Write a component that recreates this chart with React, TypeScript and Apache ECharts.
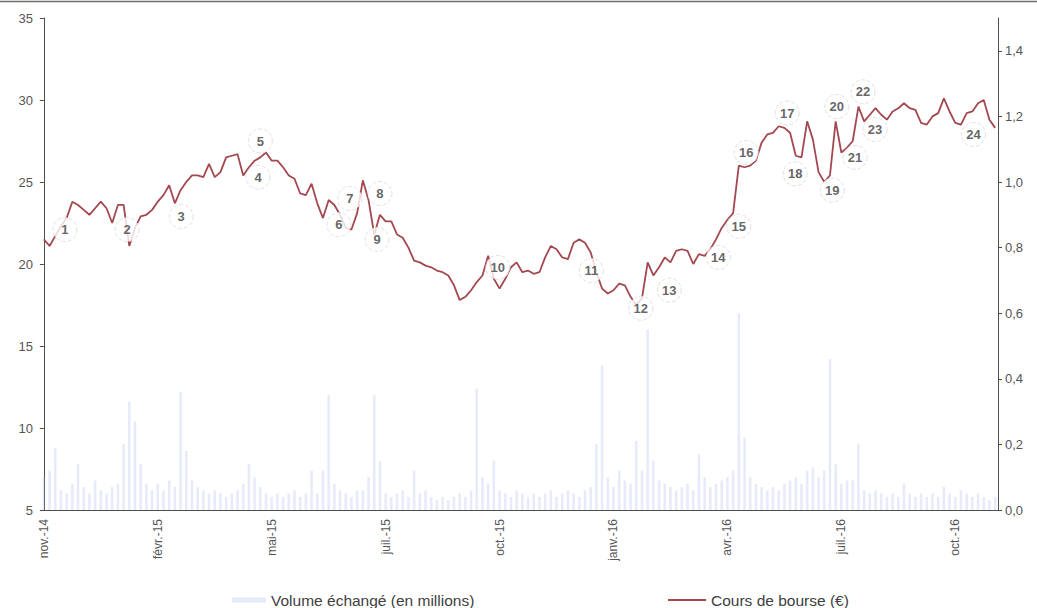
import React, { useEffect, useRef } from "react";
import * as echarts from "echarts";

// x-axis tick labels (one every LABEL_STEP categories; each category = 3 trading days)
const tickLabels = ["nov.-14", "févr.-15", "mai-15", "juil.-15", "oct.-15", "janv.-16", "avr.-16", "juil.-16", "oct.-16"];
const LABEL_STEP = 20;
const TICK_STEP = 35;

// Cours de bourse (€)
const price = [
  21.5, 21.1, 21.7, 22.3, 22.8, 23.8, 23.6, 23.3, 23.0, 23.4,
  23.8, 23.4, 22.5, 23.6, 23.6, 21.1, 22.2, 22.9, 23.0, 23.3,
  23.8, 24.2, 24.8, 23.7, 24.5, 25.0, 25.4, 25.4, 25.3, 26.1,
  25.3, 25.6, 26.5, 26.6, 26.7, 25.4, 25.9, 26.3, 26.5, 26.8,
  26.3, 26.3, 25.9, 25.4, 25.2, 24.3, 24.2, 24.9, 23.7, 22.8,
  23.9, 23.6, 23.0, 22.2, 22.1, 23.1, 25.1, 23.9, 21.8, 23.0,
  22.6, 22.6, 21.8, 21.6, 21.0, 20.2, 20.1, 19.9, 19.8, 19.6,
  19.5, 19.3, 18.7, 17.8, 18.0, 18.4, 18.9, 19.3, 20.5, 19.1,
  18.5, 19.1, 19.8, 20.1, 19.5, 19.6, 19.4, 19.5, 20.4, 21.1,
  20.9, 20.4, 20.3, 21.3, 21.5, 21.3, 20.7, 19.5, 18.5, 18.2,
  18.4, 18.8, 18.7, 18.0, 17.5, 17.9, 20.1, 19.3, 19.8, 20.4,
  20.1, 20.8, 20.9, 20.8, 20.0, 20.6, 20.5, 20.9, 21.5, 22.2,
  22.7, 23.1, 26.0, 25.9, 26.0, 26.3, 27.4, 27.9, 28.0, 28.4,
  28.3, 28.0, 26.6, 26.5, 28.7, 27.6, 25.6, 25.0, 25.4, 28.7,
  26.8, 27.1, 27.5, 29.6, 28.7, 29.1, 29.5, 29.1, 28.8, 29.3,
  29.5, 29.8, 29.5, 29.4, 28.6, 28.5, 29.0, 29.2, 30.1, 29.3,
  28.6, 28.5, 29.2, 29.3, 29.8, 30.0, 28.8, 28.3,
];

// Volume échangé (en millions)
const volume = [
  0.10, 0.12, 0.19, 0.06, 0.05, 0.08, 0.14, 0.07, 0.05, 0.09,
  0.06, 0.05, 0.07, 0.08, 0.20, 0.33, 0.27, 0.14, 0.08, 0.06,
  0.08, 0.06, 0.09, 0.07, 0.36, 0.18, 0.09, 0.07, 0.06, 0.05,
  0.06, 0.05, 0.04, 0.05, 0.06, 0.08, 0.14, 0.10, 0.07, 0.05,
  0.04, 0.05, 0.04, 0.05, 0.06, 0.04, 0.05, 0.12, 0.05, 0.12,
  0.35, 0.08, 0.06, 0.05, 0.04, 0.06, 0.06, 0.10, 0.35, 0.15,
  0.05, 0.04, 0.05, 0.06, 0.04, 0.12, 0.05, 0.06, 0.04, 0.03,
  0.04, 0.03, 0.04, 0.05, 0.04, 0.06, 0.37, 0.10, 0.08, 0.15,
  0.06, 0.05, 0.04, 0.06, 0.05, 0.04, 0.05, 0.04, 0.05, 0.06,
  0.04, 0.05, 0.06, 0.05, 0.04, 0.06, 0.07, 0.20, 0.44, 0.10,
  0.07, 0.12, 0.09, 0.08, 0.21, 0.12, 0.55, 0.15, 0.09, 0.08,
  0.07, 0.06, 0.07, 0.08, 0.06, 0.17, 0.10, 0.07, 0.08, 0.09,
  0.10, 0.12, 0.60, 0.22, 0.10, 0.08, 0.07, 0.06, 0.07, 0.06,
  0.08, 0.09, 0.10, 0.08, 0.12, 0.13, 0.10, 0.12, 0.46, 0.14,
  0.08, 0.09, 0.09, 0.20, 0.06, 0.05, 0.06, 0.05, 0.04, 0.05,
  0.04, 0.08, 0.05, 0.04, 0.05, 0.04, 0.05, 0.04, 0.07, 0.05,
  0.04, 0.06, 0.05, 0.04, 0.05, 0.04, 0.03, 0.04,
];

// Numbered event markers (position in category units, price level)
const eventIds = ["1", "2", "3", "4", "5", "6", "7", "8", "9", "10", "11", "12", "13", "14", "15", "16", "17", "18", "19", "20", "21", "22", "23", "24"];
const eventX = [3.7, 14.6, 24.1, 37.6, 38.0, 51.8, 53.7, 59.0, 58.5, 79.7, 96.1, 104.8, 109.8, 118.4, 122.0, 123.3, 130.5, 131.9, 138.4, 139.2, 142.4, 143.8, 145.9, 163.2];
const eventY = [22.1, 22.1, 22.9, 25.3, 27.5, 22.4, 24.0, 24.3, 21.5, 19.8, 19.6, 17.3, 18.4, 20.4, 22.3, 26.8, 29.2, 25.5, 24.5, 29.6, 26.5, 30.5, 28.2, 27.9];

const categories = price.map((_, i) => (i % LABEL_STEP === 0 ? tickLabels[i / LABEL_STEP] : "j" + i));

const VOL_NAME = "Volume échangé (en millions)";
const PRICE_NAME = "Cours de bourse (€)";
const FONT = "'Liberation Sans', Arial, sans-serif";
const LINE_COLOR = "#a3484f";

export default function App() {
  const ref = useRef<HTMLDivElement>(null);
  useEffect(() => {
    if (!ref.current) return;
    const chart = echarts.init(ref.current, undefined, { renderer: "svg" });
    const n = price.length;
    chart.setOption({
      animation: false,
      backgroundColor: "#ffffff",
      textStyle: { fontFamily: FONT },
      grid: { left: 41, right: 39, top: 18, bottom: 98, containLabel: false },
      legend: [
        {
          data: [{ name: VOL_NAME, icon: "rect" }],
          left: 232, top: 592, itemWidth: 34, itemHeight: 5, padding: 0,
          textStyle: { fontSize: 15.5, color: "#404040", fontFamily: FONT, lineHeight: 16 },
        },
        {
          data: [{ name: PRICE_NAME, icon: "rect", itemStyle: { color: LINE_COLOR } }],
          left: 668, top: 592, itemWidth: 38, itemHeight: 2, padding: 0,
          textStyle: { fontSize: 15.5, color: "#404040", fontFamily: FONT, lineHeight: 16 },
        },
      ],
      graphic: [
        { type: "line", shape: { x1: 0, y1: 1.5, x2: 1037, y2: 1.5 }, style: { stroke: "#6e6e6e", lineWidth: 1.5 } },
      ],
      xAxis: [
        {
          type: "category",
          data: categories,
          boundaryGap: true,
          axisLine: { lineStyle: { color: "#4d4d4d", width: 1 } },
          axisTick: { interval: TICK_STEP - 1, length: 4, lineStyle: { color: "#4d4d4d" } },
          axisLabel: {
            interval: LABEL_STEP - 1, rotate: 90, fontSize: 12, color: "#555", margin: 9, fontFamily: FONT,
          },
          splitLine: { show: false },
        },
        { type: "value", min: -0.5, max: n - 0.5, show: false, gridIndex: 0 },
      ],
      yAxis: [
        {
          type: "value", min: 5, max: 35, interval: 5, position: "left",
          axisLine: { show: true, lineStyle: { color: "#4d4d4d" } },
          axisTick: { show: true, length: 4, lineStyle: { color: "#4d4d4d" } },
          axisLabel: { fontSize: 13, color: "#555", margin: 8, fontFamily: FONT },
          splitLine: { show: false },
        },
        {
          type: "value", min: 0, max: 1.5, interval: 0.2, position: "right",
          axisLine: { show: true, lineStyle: { color: "#4d4d4d" } },
          axisTick: { show: true, length: 4, lineStyle: { color: "#4d4d4d" } },
          axisLabel: {
            fontSize: 13, color: "#555", margin: 7, fontFamily: FONT, showMaxLabel: false,
            formatter: (v: number) => v.toFixed(1).replace(".", ","),
          },
          splitLine: { show: false },
        },
      ],
      series: [
        {
          name: VOL_NAME, type: "bar", xAxisIndex: 0, yAxisIndex: 1, data: volume,
          barWidth: 2.5, z: 2,
          itemStyle: { color: "rgba(160,175,230,0.26)" },
        },
        {
          name: PRICE_NAME, type: "line", xAxisIndex: 0, yAxisIndex: 0, data: price,
          symbol: "none", z: 3,
          lineStyle: { color: LINE_COLOR, width: 1.8 },
          itemStyle: { color: LINE_COLOR },
        },
        {
          name: "events", type: "scatter", xAxisIndex: 1, yAxisIndex: 0, z: 5,
          data: eventIds.map((id, k) => ({ name: id, value: [eventX[k], eventY[k]] })),
          symbol: "circle", symbolSize: 24,
          itemStyle: { color: "#ffffff", borderColor: "#dadada", borderWidth: 1, borderType: "dashed" },
          label: {
            show: true, position: "inside", formatter: (p: any) => p.name,
            fontSize: 13, fontWeight: "bold", color: "#3d3d3d", fontFamily: FONT,
          },
          emphasis: { disabled: true },
        },
      ],
    });
    return () => chart.dispose();
  }, []);
  return <div ref={ref} style={{ position: "fixed", left: 0, top: 0, width: 1037, height: 608 }} />;
}
